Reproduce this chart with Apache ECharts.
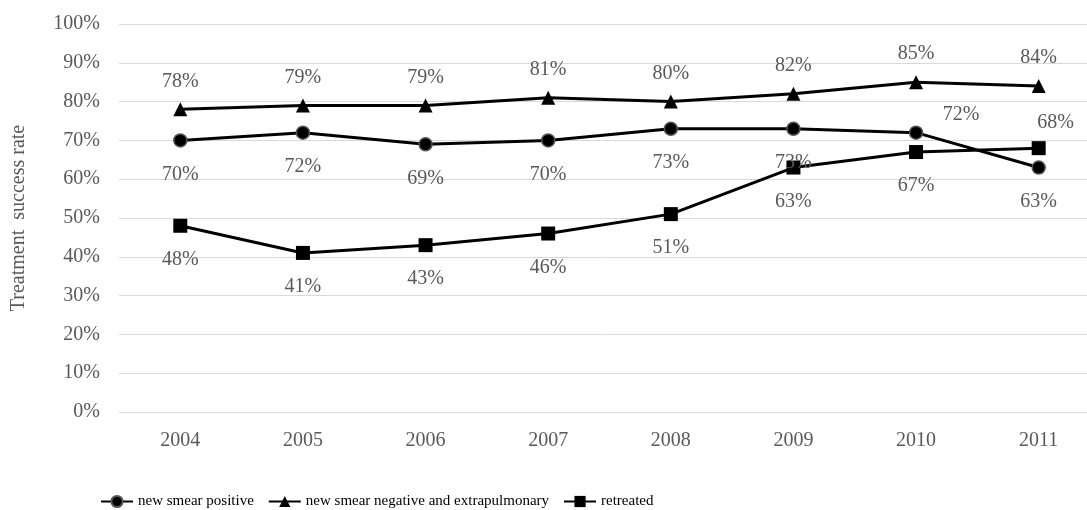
<!DOCTYPE html>
<html>
<head>
<meta charset="utf-8">
<script src="https://cdn.jsdelivr.net/npm/echarts@6/dist/echarts.min.js"></script>
<style>
  html, body { margin: 0; padding: 0; background: #fff; }
  #chart { width: 1087px; height: 510px; }
</style>
</head>
<body>
<div id="chart"></div>
<script>
// Treatment success rate by patient category, 2004-2011
const years = ['2004', '2005', '2006', '2007', '2008', '2009', '2010', '2011'];
const newSmearPositive = [70, 72, 69, 70, 73, 73, 72, 63];
const newSmearNegative = [78, 79, 79, 81, 80, 82, 85, 84];
const retreated = [48, 41, 43, 46, 51, 63, 67, 68];

const FONT = '"Liberation Serif", "Times New Roman", serif';
const GREY = '#595959';

const labelStyle = {
  show: true,
  formatter: '{c}%',
  color: GREY,
  fontFamily: FONT,
  fontSize: 20
};

function withLabelAt(values, index, label) {
  return values.map((v, i) => (i === index ? { value: v, label: label } : v));
}

const chart = echarts.init(document.getElementById('chart'), null, { renderer: 'canvas' });

chart.setOption({
  backgroundColor: '#ffffff',
  animation: false,
  grid: { left: 119, right: -13, top: 24, height: 388, outerBoundsMode: 'none', containLabel: false },
  legend: {
    top: 489,
    left: 95,
    itemWidth: 32,
    itemHeight: 14,
    itemGap: 14,
    textStyle: { color: '#000', fontFamily: FONT, fontSize: 15 },
    data: ['new smear positive', 'new smear negative and extrapulmonary', 'retreated']
  },
  xAxis: {
    type: 'category',
    data: years,
    boundaryGap: true,
    axisLine: { show: false },
    axisTick: { show: false },
    axisLabel: { color: GREY, fontFamily: FONT, fontSize: 20, margin: 19 }
  },
  yAxis: {
    type: 'value',
    min: 0,
    max: 100,
    interval: 10,
    name: 'Treatment  success rate',
    nameLocation: 'middle',
    nameGap: 90,
    nameTextStyle: { color: GREY, fontFamily: FONT, fontSize: 20 },
    axisLine: { show: false },
    axisTick: { show: false },
    splitLine: { lineStyle: { color: '#d9d9d9', width: 1 } },
    axisLabel: { color: GREY, fontFamily: FONT, fontSize: 20, margin: 19, formatter: '{value}%' }
  },
  series: [
    {
      name: 'new smear positive',
      type: 'line',
      data: withLabelAt(newSmearPositive, 6, { position: 'top', distance: 1, offset: [45, 0] }),
      symbol: 'circle',
      symbolSize: 13,
      itemStyle: { color: '#000', borderColor: '#555', borderWidth: 1.5 },
      lineStyle: { color: '#000', width: 3 },
      label: Object.assign({}, labelStyle, { position: 'bottom', distance: 17 }),
      z: 3
    },
    {
      name: 'new smear negative and extrapulmonary',
      type: 'line',
      data: newSmearNegative,
      symbol: 'triangle',
      symbolSize: 14,
      itemStyle: { color: '#000' },
      lineStyle: { color: '#000', width: 3 },
      label: Object.assign({}, labelStyle, { position: 'top', distance: 11 }),
      z: 3
    },
    {
      name: 'retreated',
      type: 'line',
      data: withLabelAt(retreated, 7, { position: 'top', distance: 8, offset: [17, 0] }),
      symbol: 'rect',
      symbolSize: 14,
      itemStyle: { color: '#000' },
      lineStyle: { color: '#000', width: 3 },
      label: Object.assign({}, labelStyle, { position: 'bottom', distance: 17 }),
      z: 3
    }
  ]
});
</script>
</body>
</html>
